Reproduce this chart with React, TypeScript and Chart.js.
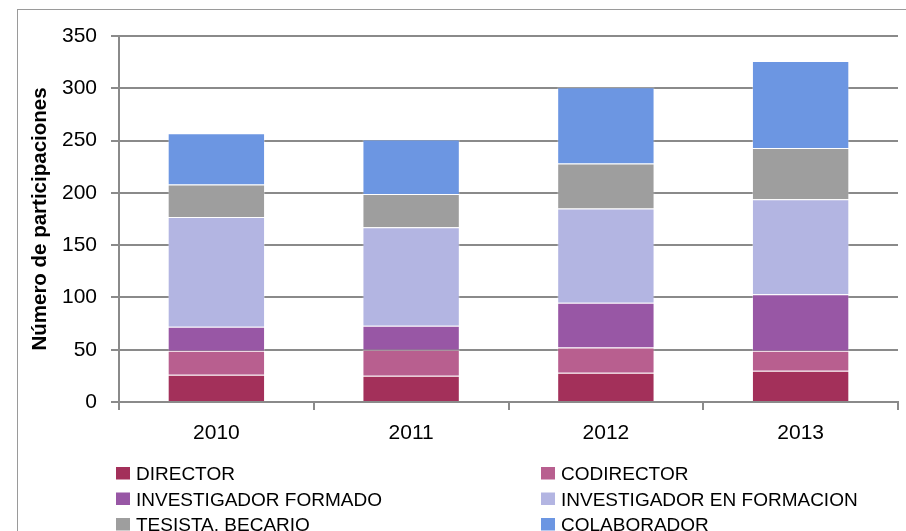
import React, { useEffect, useRef } from "react";
import { Chart, registerables } from "chart.js";

Chart.register(...registerables);

const years = ["2010", "2011", "2012", "2013"];
const seriesLabels = [
  "DIRECTOR",
  "CODIRECTOR",
  "INVESTIGADOR FORMADO",
  "INVESTIGADOR EN FORMACION",
  "TESISTA, BECARIO",
  "COLABORADOR",
];
const director = [26, 25, 28, 30];
const codirector = [23, 25, 24, 19];
const investigadorFormado = [23, 23, 43, 54];
const investigadorEnFormacion = [105, 94, 90, 91];
const tesistaBecario = [31, 32, 43, 49];
const colaborador = [49, 52, 73, 83];
const colors = ["#A3305A", "#B85F8F", "#9857A5", "#B3B5E2", "#9E9E9E", "#6C96E2"];
const yTitle = "Número de participaciones";

const FONT = "'Liberation Sans', Arial, sans-serif";

const frameAndLegend = {
  id: "frameAndLegend",
  beforeDraw(chart: any) {
    const ctx = chart.ctx;
    ctx.save();
    ctx.fillStyle = "#ffffff";
    ctx.fillRect(0, 0, chart.width, chart.height);
    ctx.strokeStyle = "#9a9a9a";
    ctx.lineWidth = 1;
    ctx.strokeRect(17.5, 9.5, 1200, 1200);
    ctx.restore();
  },
  afterDraw(chart: any) {
    const ctx = chart.ctx;
    ctx.save();
    const colX = [116, 541];
    const rowY = [467, 492.5, 518];
    ctx.font = `19px ${FONT}`;
    ctx.textBaseline = "alphabetic";
    ctx.textAlign = "left";
    chart.data.datasets.forEach((ds: any, i: number) => {
      const x = colX[i % 2];
      const y = rowY[Math.floor(i / 2)];
      ctx.fillStyle = ds.backgroundColor;
      ctx.fillRect(x, y, 14, 12.5);
      ctx.fillStyle = "#000000";
      ctx.fillText(ds.label, x + 20, y + 13);
    });
    ctx.restore();
  },
};

export default function App() {
  const ref = useRef<HTMLCanvasElement>(null);
  useEffect(() => {
    if (!ref.current) return;
    const values = [
      director,
      codirector,
      investigadorFormado,
      investigadorEnFormacion,
      tesistaBecario,
      colaborador,
    ];
    const chart = new Chart(ref.current, {
      type: "bar",
      data: {
        labels: years,
        datasets: seriesLabels.map((label, i) => ({
          label,
          data: values[i],
          backgroundColor: colors[i],
          borderColor: "rgba(255,255,255,0.3)",
          borderWidth: 1,
          barPercentage: 0.5,
          categoryPercentage: 1,
        })),
      },
      options: {
        animation: false,
        responsive: false,
        maintainAspectRatio: false,
        layout: { padding: { left: 0, top: 36, right: 8, bottom: 0 } },
        plugins: {
          legend: { display: false },
          tooltip: { enabled: false },
          title: { display: false },
        },
        scales: {
          x: {
            stacked: true,
            afterFit(scale: any) {
              scale.height = 129;
            },
            grid: {
              drawOnChartArea: false,
              drawTicks: true,
              tickLength: 8,
              color: "#8a8a8a",
              lineWidth: 2,
            },
            border: { display: true, color: "#8a8a8a", width: 2 },
            ticks: {
              color: "#000000",
              font: { family: FONT, size: 21 },
              padding: 11,
            },
          },
          y: {
            stacked: true,
            min: 0,
            max: 350,
            afterFit(scale: any) {
              scale.width = 119;
            },
            grid: {
              drawTicks: true,
              tickLength: 8,
              color: "#8a8a8a",
              lineWidth: 2,
            },
            border: { display: true, color: "#8a8a8a", width: 2 },
            ticks: {
              stepSize: 50,
              color: "#000000",
              font: { family: FONT, size: 21 },
              padding: 14,
            },
            title: {
              display: true,
              text: yTitle,
              color: "#000000",
              font: { family: FONT, size: 20.5, weight: "bold" },
              padding: { top: 28, bottom: 0 },
            },
          },
        },
      },
      plugins: [frameAndLegend],
    });
    return () => chart.destroy();
  }, []);
  return (
    <div style={{ position: "fixed", left: 0, top: 0, width: 906, height: 531 }}>
      <canvas ref={ref} width={906} height={531} style={{ width: 906, height: 531, display: "block" }} />
    </div>
  );
}
